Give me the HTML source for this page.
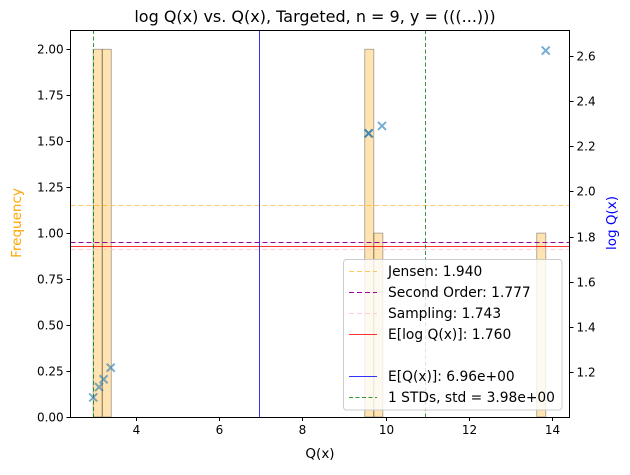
<!DOCTYPE html>
<html><head><meta charset="utf-8"><style>
body{margin:0;background:#fff}
svg{font-family:"DejaVu Sans","Liberation Sans",sans-serif}
line{shape-rendering:crispEdges}
</style></head><body>
<svg id="c" width="630" height="470" xmlns="http://www.w3.org/2000/svg"></svg>
<script>
const samples = [2.97, 3.11, 3.22, 3.39, 9.58, 9.58, 9.90, 13.83];
const xTicks = [4, 6, 8, 10, 12, 14];
const yLeftTicks = [0, 0.25, 0.5, 0.75, 1.0, 1.25, 1.5, 1.75, 2.0];
const yRightTicks = [1.2, 1.4, 1.6, 1.8, 2.0, 2.2, 2.4, 2.6];
const hlineNames = ["Jensen", "Second Order", "Sampling", "E[log Q(x)]"];
const hlineValues = [1.940, 1.777, 1.743, 1.760];
const meanQ = [6.96];
const stdQ = [3.98];
const nBins = 50;

const L=70.7,R=569.5,T=30,B=417;
const X=v=>L+(v-2.43)/(14.40-2.43)*(R-L);
const YL=v=>B-(v-0)/(2.105-0)*(B-T);
const YR=v=>B-(v-1.002)/(2.718-1.002)*(B-T);
const snap=v=>Math.round(v-0.5)+0.5;
const svg=document.getElementById('c');
const NS='http://www.w3.org/2000/svg';
function mk(tag,attrs,parent){const e=document.createElementNS(NS,tag);for(const k in attrs)e.setAttribute(k,attrs[k]);(parent||svg).appendChild(e);return e;}

const mn=Math.min(...samples),mx=Math.max(...samples),bw=(mx-mn)/nBins;
const counts=new Array(nBins).fill(0);
samples.forEach(s=>{let i=Math.floor((s-mn)/bw);if(i>=nBins)i=nBins-1;counts[i]++;});
counts.forEach((c,i)=>{if(!c)return;
 const r=mk('rect',{x:X(mn+i*bw),y:YL(c),width:X(mn+(i+1)*bw)-X(mn+i*bw),height:YL(0)-YL(c),fill:'rgba(255,165,0,0.3)',stroke:'rgba(0,0,0,0.3)','stroke-width':1});
 
 
});
const hStyles=[['#ffa500','5,3',0.6],['#a000a0','5,3',1],['#ffc0cb','5,3',0.8],['#ff0000','',0.8]];
hlineValues.forEach((v,i)=>{
 const y=snap(YR(v));
 const l=mk('line',{x1:L,x2:R,y1:y,y2:y,stroke:hStyles[i][0],'stroke-opacity':hStyles[i][2],'stroke-width':1,'stroke-dasharray':hStyles[i][1]});
 
 
});
const mxp=snap(X(meanQ[0]));
const vm=mk('line',{x1:mxp,x2:mxp,y1:T,y2:B,stroke:'#0000ff','stroke-opacity':0.8,'stroke-width':1});


[meanQ[0]-stdQ[0],meanQ[0]+stdQ[0]].forEach(v=>{
 const x=snap(X(v));
 const l=mk('line',{x1:x,x2:x,y1:T,y2:B,stroke:'#008000','stroke-opacity':0.8,'stroke-width':1,'stroke-dasharray':'4,2.5'});
 
 
});
samples.forEach(s=>{
 const x=X(s),y=YR(Math.log(s)),d=4;
 const g=mk('path',{d:`M${x-d} ${y-d}L${x+d} ${y+d}M${x-d} ${y+d}L${x+d} ${y-d}`,stroke:'rgba(31,119,180,0.6)','stroke-width':2});
 
 
});
mk('rect',{x:snap(L),y:snap(T),width:Math.round(R-L),height:Math.round(B-T),fill:'none',stroke:'#000','stroke-width':1});
xTicks.forEach(t=>{const x=snap(X(t));mk('line',{x1:x,x2:x,y1:B,y2:B+4,stroke:'#000'});
 const tx=mk('text',{x:x,y:B+17,'font-size':12,'text-anchor':'middle'});tx.textContent=t;
 
 });
yLeftTicks.forEach(t=>{const y=snap(YL(t));mk('line',{x1:L-4,x2:L,y1:y,y2:y,stroke:'#000'});
 const tx=mk('text',{x:L-7,y:y+4,'font-size':12,'text-anchor':'end'});tx.textContent=t.toFixed(2);
 
 });
yRightTicks.forEach(t=>{const y=snap(YR(t));mk('line',{x1:R,x2:R+4,y1:y,y2:y,stroke:'#000'});
 const tx=mk('text',{x:R+7,y:y+4,'font-size':12}); tx.textContent=t.toFixed(1);
 
 });
const lg=mk('g',{});


mk('rect',{x:343.5,y:259.5,width:218.5,height:150.5,rx:3,fill:'rgba(255,255,255,0.8)',stroke:'#ccc'},lg);
const entries=[
 [hStyles[0],"Jensen: 1.940",270],
 [hStyles[1],"Second Order: 1.777",291],
 [hStyles[2],"Sampling: 1.743",312],
 [hStyles[3],"E[log Q(x)]: 1.760",333],
 [['#0000ff','',0.8],"E[Q(x)]: 6.96e+00",375],
 [['#008000','4,2.5',0.8],"1 STDs, std = 3.98e+00",396]];
entries.forEach(e=>{
 mk('line',{x1:349,x2:377,y1:e[2]+1.5,y2:e[2]+1.5,stroke:e[0][0],'stroke-opacity':e[0][2],'stroke-dasharray':e[0][1]},lg);
 const t=mk('text',{x:388,y:e[2]+6,'font-size':13.8},lg);t.textContent=e[1];
 
 
});
</script>
<svg width="630" height="470" style="position:absolute;left:0;top:0;pointer-events:none" xmlns="http://www.w3.org/2000/svg">
<text x="315" y="22" font-size="16" text-anchor="middle" font-family="DejaVu Sans, Liberation Sans, sans-serif">log Q(x) vs. Q(x), Targeted, n = 9, y = (((...)))</text>
<text x="320" y="458" font-size="13.5" text-anchor="middle" font-family="DejaVu Sans, Liberation Sans, sans-serif">Q(x)</text>
<text transform="translate(21,223) rotate(-90)" font-size="13.5" text-anchor="middle" fill="orange" font-family="DejaVu Sans, Liberation Sans, sans-serif">Frequency</text>
<text transform="translate(616,223) rotate(-90)" font-size="13.5" text-anchor="middle" fill="blue" font-family="DejaVu Sans, Liberation Sans, sans-serif">log Q(x)</text>
</svg>
</body></html>
